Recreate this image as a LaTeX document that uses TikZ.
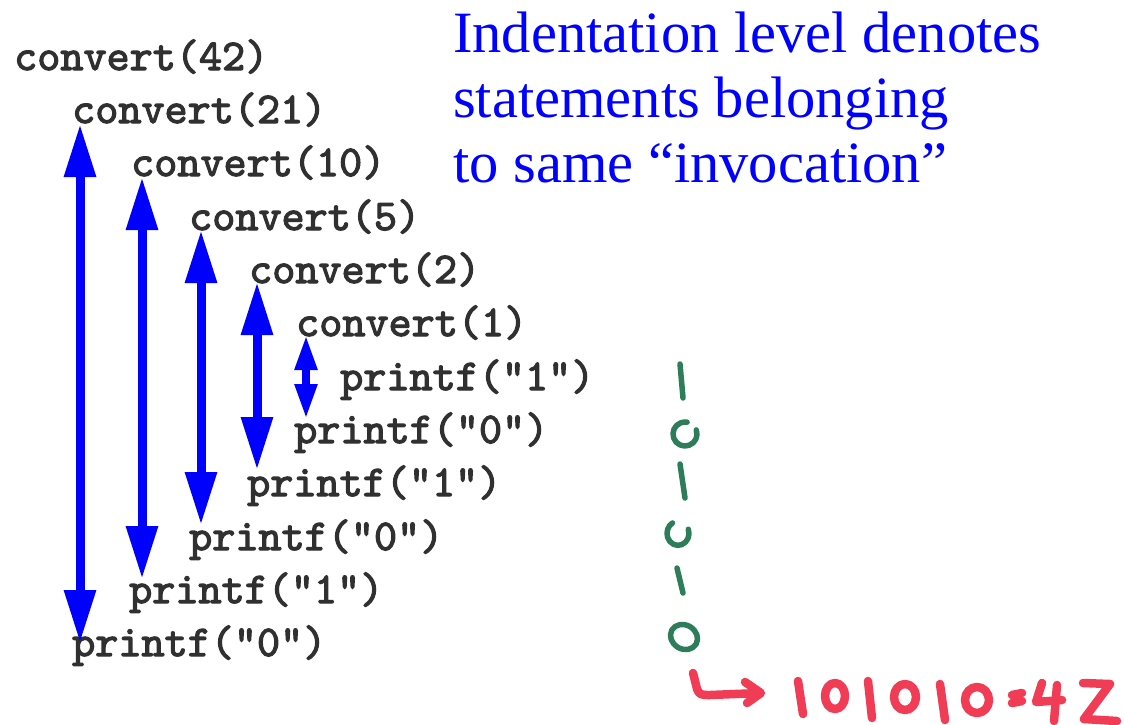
\documentclass[tikz,border=0pt]{standalone}
\usepackage{fontspec}
\setmainfont{Liberation Serif}
\newfontfamily\codefont{lmmono10-regular}[Extension=.otf, FakeBold=2.6]
\usetikzlibrary{arrows.meta}

\definecolor{codegray}{HTML}{303030}
\definecolor{noteblue}{HTML}{0000FF}
\definecolor{inkgreen}{RGB}{45,125,90}
\definecolor{inkred}{RGB}{240,60,85}

\tikzset{
  code/.style={anchor=base west, inner sep=0pt, text=codegray,
    font=\codefont\bfseries\fontsize{44}{46}\selectfont},
  note/.style={anchor=base west, inner sep=0pt, text=noteblue,
    font=\fontsize{58.5}{65}\selectfont},
  callarrow/.style={draw=noteblue, line width=9pt,
    {Triangle[length=53pt,width=30pt]}-{Triangle[length=53pt,width=30pt]}},
  shortcall/.style={draw=noteblue, line width=8pt,
    {Triangle[length=35pt,width=21pt]}-{Triangle[length=35pt,width=21pt]}},
  greenink/.style={draw=inkgreen, line width=5.5pt, line cap=round, line join=round},
  redink/.style={draw=inkred, line width=8.5pt, line cap=round, line join=round},
}

\begin{document}
\begin{tikzpicture}[x=1pt, y=-1pt]
\useasboundingbox (0,0) rectangle (1124,724);

% trace of the recursive calls, one statement per line
\node[code] (c42) at (14,70)  {convert(42)};
\node[code] (c21) at (72,123) {convert(21)};
\node[code] (c10) at (131,176) {convert(10)};
\node[code] (c5)  at (189,230) {convert(5)};
\node[code] (c2)  at (249,283) {convert(2)};
\node[code] (c1)  at (296,336) {convert(1)};
\node[code] (p1a) at (340,390) {printf("1")};
\node[code] (p0a) at (294,443) {printf("0")};
\node[code] (p1b) at (247,496) {printf("1")};
\node[code] (p0b) at (189,550) {printf("0")};
\node[code] (p1c) at (129,603) {printf("1")};
\node[code] (p0c) at (72,656)  {printf("0")};

% explanatory note
\node[note] (n1) at (453,52)  {Indentation level denotes};
\node[note] (n2) at (453,117) {statements belonging};
\node[note] (n3) at (453,182) {to same “invocation”};

% arrows joining each call to the printf of the same invocation
\draw[callarrow] ([shift={(8,1)}]c21.base west) -- ([shift={(8,-13)}]p0c.base west);
\draw[callarrow] ([shift={(11,1)}]c10.base west) -- ([shift={(13,-24)}]p1c.base west);
\draw[callarrow] ([shift={(12,0)}]c5.base west) -- ([shift={(12,-25)}]p0b.base west);
\draw[callarrow] ([shift={(8,-1)}]c2.base west) -- ([shift={(10,-26)}]p1b.base west);
\draw[shortcall] ([shift={(10,-1)}]c1.base west) -- ([shift={(12,-24)}]p0a.base west);

% handwritten output digits, in green (y grows downwards, so angles turn clockwise)
\draw[greenink] (680,364) -- (683,398);
\draw[greenink] (685,434) ++(-20:12) arc[start angle=-20, end angle=280, radius=12];
\draw[greenink] (680,464) -- (685,498);
\draw[greenink] (678,533) ++(-20:11) arc[start angle=-20, end angle=240, x radius=11, y radius=12];
\draw[greenink] (677,568) -- (683,593);
\draw[greenink, rotate around={-30:(684,637)}] (684,637) ellipse[x radius=14, y radius=12];

% handwritten result, in red
\draw[redink] (693,673) -- (697,689) .. controls (699,695) and (702,695) .. (710,695) -- (760,693);
\draw[redink] (745,682) -- (761,693) -- (747,703);
\draw[redink] (798,681) -- (803,714);
\draw[redink] (835,696) ellipse[x radius=10, y radius=13];
\draw[redink] (868,681) -- (872,718);
\draw[redink] (905,697) ellipse[x radius=11, y radius=13];
\draw[redink] (940,684) -- (945,720);
\draw[redink] (977,700) ellipse[x radius=12, y radius=13];
\draw[redink] (1012,695) -- (1022,693);
\draw[redink] (1012,703) -- (1022,701);
\draw[redink] (1042,683) -- (1036,702) -- (1062,700);
\draw[redink] (1057,685) -- (1054,721);
\draw[redink] (1083,683) -- (1110,684) -- (1084,719) -- (1117,721);
\end{tikzpicture}
\end{document}
